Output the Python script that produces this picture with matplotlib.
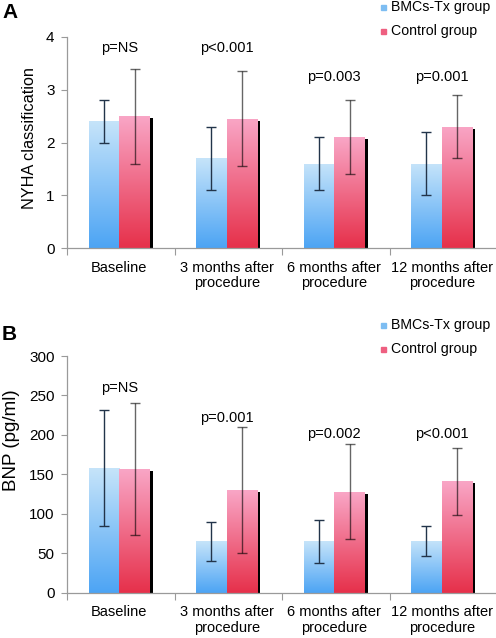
import numpy as np
import matplotlib
matplotlib.use("Agg")
import matplotlib.pyplot as plt
from matplotlib.transforms import ScaledTranslation
from matplotlib.colors import LinearSegmentedColormap
from matplotlib.patches import Rectangle

plt.rcParams['font.family'] = ['Liberation Sans', 'DejaVu Sans']

categories = ["Baseline", "3 months after\nprocedure", "6 months after\nprocedure", "12 months after\nprocedure"]
series = ["BMCs-Tx group", "Control group"]

nyha_bmc = [2.4, 1.7, 1.6, 1.6]
nyha_bmc_err = [0.4, 0.6, 0.5, 0.6]
nyha_ctrl = [2.5, 2.45, 2.1, 2.3]
nyha_ctrl_err = [0.9, 0.9, 0.7, 0.6]
nyha_p = ["p=NS", "p<0.001", "p=0.003", "p=0.001"]
nyha_p_y = [3.8, 3.8, 3.25, 3.25]

bnp_bmc = [158, 65, 65, 66]
bnp_bmc_err = [73, 25, 27, 19]
bnp_ctrl = [157, 130, 128, 141]
bnp_ctrl_err = [84, 80, 60, 42]
bnp_p = ["p=NS", "p=0.001", "p=0.002", "p<0.001"]
bnp_p_y = [260, 222, 201, 201]

blue_cmap = LinearSegmentedColormap.from_list("b", ["#4ca4f4", "#c6e4fa"])
pink_cmap = LinearSegmentedColormap.from_list("p", ["#e6304a", "#f9a6c6"])

fig = plt.figure(figsize=(4.96, 6.38), dpi=100)
W, H = 496, 638

def make_axes(top_px, bottom_px):
    left = 67 / W
    right = 497 / W
    return fig.add_axes([left, 1 - bottom_px / H, right - left, (bottom_px - top_px) / H])

grad = np.linspace(0, 1, 256).reshape(-1, 1)

def draw_panel(ax, bmc, bmc_err, ctrl, ctrl_err, pvals, pys, ymax, ystep, ylabel,
               ylabel_size, ylabel_xy):
    x = np.arange(len(categories))
    w = 0.28
    xb = x + 0.344
    xc = x + 0.628
    ax.set_xlim(0, len(categories))
    ax.set_ylim(0, ymax)
    shadow_tr = ax.transData + ScaledTranslation(3 / 100, -2 / 100, fig.dpi_scale_trans)
    for xi, v in zip(xc, ctrl):
        ax.bar(xi, v, w, color="black", transform=shadow_tr, zorder=1)
    for xs, vals, cmap in ((xb, bmc, blue_cmap), (xc, ctrl, pink_cmap)):
        bars = ax.bar(xs, vals, w, color="none", zorder=2)
        for b in bars:
            x0, y0 = b.get_x(), b.get_y()
            im = ax.imshow(grad, cmap=cmap, origin="lower", aspect="auto",
                           extent=[x0, x0 + b.get_width(), y0, y0 + b.get_height()],
                           zorder=2)
            im.set_clip_path(b)
    ax.set_xlim(0, len(categories))
    ax.set_ylim(0, ymax)
    ax.errorbar(xb, bmc, yerr=bmc_err, fmt="none", ecolor="#22344a", elinewidth=1,
                capsize=3.5, capthick=1, zorder=4)
    ax.errorbar(xc, ctrl, yerr=ctrl_err, fmt="none", ecolor=(0, 0, 0, 0.6), elinewidth=1,
                capsize=3.5, capthick=1, zorder=4)
    for xi, t, py in zip(x + 0.485, pvals, pys):
        ax.text(xi, py, t, ha="center", va="center", fontsize=10.5)
    ax.set_yticks(np.arange(0, ymax + 0.001, ystep))
    ax.set_xticks(np.arange(0, len(categories) + 1))
    ax.set_xticklabels([])
    ax.set_xticks(x + 0.485, minor=True)
    ax.set_xticklabels(categories, minor=True, fontsize=10.5, linespacing=1.15)
    ax.tick_params(axis="x", which="minor", length=0, pad=9)
    ax.tick_params(axis="x", which="major", length=5, color="#9a9a9a", direction="out")
    ax.tick_params(axis="y", length=4, color="#9a9a9a", labelsize=11, pad=5)
    for s in ("top", "right"):
        ax.spines[s].set_visible(False)
    for s in ("left", "bottom"):
        ax.spines[s].set_color("#9a9a9a")
        ax.spines[s].set_linewidth(0.9)
    ax.set_ylabel(ylabel, fontsize=ylabel_size, va="center", ha="center")
    ax.yaxis.set_label_coords(*ylabel_xy)

axA = make_axes(37, 248)
draw_panel(axA, nyha_bmc, nyha_bmc_err, nyha_ctrl, nyha_ctrl_err, nyha_p, nyha_p_y, 4, 1,
           "NYHA classification", 11.7, (-0.088, 0.519))
axB = make_axes(356, 592.7)
draw_panel(axB, bnp_bmc, bnp_bmc_err, bnp_ctrl, bnp_ctrl_err, bnp_p, bnp_p_y, 300, 50,
           "BNP (pg/ml)", 13.5, (-0.128, 0.645))

fig.text(2 / W, 1 - 13 / H, "A", fontsize=15, fontweight="bold", va="center", ha="left")
fig.text(2 / W, 1 - 335 / H, "B", fontsize=15, fontweight="bold", va="center", ha="left")

def legend(y_top_px):
    for i, (name, col) in enumerate(zip(series, ["#7dbdf2", "#ee5f80"])):
        yc = y_top_px + i * 24.5
        fig.patches.append(Rectangle((381 / W, 1 - (yc + 2.5) / H), 5 / W, 5 / H,
                                     transform=fig.transFigure, color=col, figure=fig))
        fig.text(391 / W, 1 - yc / H, name, fontsize=10.2, va="center", ha="left")

legend(7)
legend(325)

fig.savefig("out.png", dpi=100)
